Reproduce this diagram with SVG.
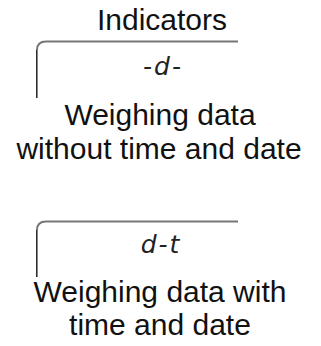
<svg xmlns="http://www.w3.org/2000/svg" width="321" height="346" viewBox="0 0 321 346">
<style>
.lbl{font-family:"Liberation Sans",Arial,sans-serif;font-size:30px;fill:#111;text-anchor:middle}
.seg{font-family:"DejaVu Sans","Liberation Sans",sans-serif;font-size:25px;font-style:italic;font-weight:200;fill:#222;text-anchor:middle;letter-spacing:2px}
.top{fill:none;stroke:#777;stroke-width:2}
.side{fill:none;stroke:#222;stroke-width:1.5}
</style>
<rect width="321" height="346" fill="#fff"/>
<g id="title">
<text class="lbl" x="162" y="30">Indicators</text>
</g>
<g id="display1">
<path class="top" d="M37,50 Q37,41.5 46,41.5 L238,41.5"/>
<path class="side" d="M36.8,50 L36.8,98"/>
<text class="seg" x="163" y="75">-d-</text>
</g>
<g id="label1">
<text class="lbl" x="160" y="125">Weighing data</text>
<text class="lbl" x="159" y="159">without time and date</text>
</g>
<g id="display2">
<path class="top" d="M37,230 Q37,221.5 46,221.5 L238,221.5"/>
<path class="side" d="M36.8,230 L36.8,277"/>
<text class="seg" x="161" y="253">d-t</text>
</g>
<g id="label2">
<text class="lbl" x="160" y="302">Weighing data with</text>
<text class="lbl" x="160" y="335">time and date</text>
</g>
<g id="connectors"/>
</svg>
